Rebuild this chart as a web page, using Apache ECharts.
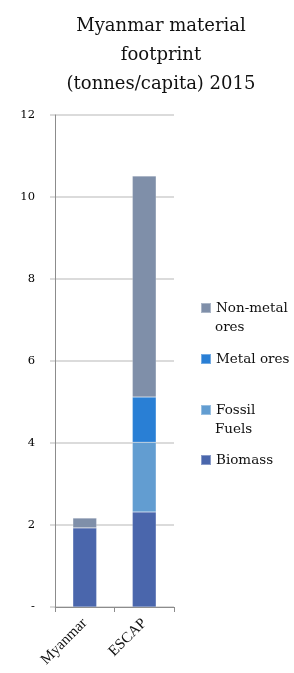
<!DOCTYPE html>
<html>
<head>
<meta charset="utf-8">
<script src="https://cdn.jsdelivr.net/npm/echarts@6/dist/echarts.min.js"></script>
<style>
  html, body { margin: 0; padding: 0; background: #fff; }
  #chart { width: 294px; height: 673px; }
</style>
</head>
<body>
<div id="chart"></div>
<script>
// 数据：从图片读取
const categories = ['Myanmar', 'ESCAP'];
const biomass = [1.93, 2.32];
const fossilFuels = [0, 1.70];
const metalOres = [0, 1.10];
const nonMetalOres = [0.24, 5.39];
const yTicks = [0, 2, 4, 6, 8, 10, 12];

const SERIF = '"DejaVu Serif", "Liberation Serif", serif';
const SERIF2 = '"Liberation Serif", "DejaVu Serif", serif';

const chart = echarts.init(document.getElementById('chart'));

const seriesDefs = [
    { name: 'Biomass', data: biomass, color: '#4a66ac' },
    { name: 'Fossil Fuels', data: fossilFuels, color: '#629dd1' },
    { name: 'Metal ores', data: metalOres, color: '#297fd5' },
    { name: 'Non-metal ores', data: nonMetalOres, color: '#7f8fa9' }
];

// 图例逐项摆放，标记对齐第一行（第二行用 graphic 补上）
const legendRows = {
    'Non-metal ores': { y: 308, first: 'Non-metal', second: 'ores' },
    'Metal ores': { y: 359, first: 'Metal ores', second: null },
    'Fossil Fuels': { y: 410, first: 'Fossil', second: 'Fuels' },
    'Biomass': { y: 460, first: 'Biomass', second: null }
};

const option = {
    animation: false,
    title: {
        text: 'Myanmar material\nfootprint\n(tonnes/capita) 2015',
        left: 156,
        top: 7,
        textAlign: 'center',
        textStyle: {
            fontFamily: SERIF,
            fontSize: 18,
            fontWeight: 'normal',
            color: '#111',
            lineHeight: 29
        }
    },
    legend: seriesDefs.map(s => ({
        data: [s.name],
        left: 200,
        top: legendRows[s.name].y - 10,
        padding: 0,
        orient: 'vertical',
        itemWidth: 10,
        itemHeight: 10,
        icon: 'rect',
        formatter: name => legendRows[name].first,
        textStyle: { fontFamily: SERIF, fontSize: 13.5, color: '#111', lineHeight: 20 },
        selectedMode: false
    })),
    graphic: Object.values(legendRows).filter(r => r.second).map(r => ({
        type: 'text',
        left: 215,
        top: r.y + 12,
        style: { text: r.second, fill: '#111', font: '13.5px ' + SERIF }
    })),
    grid: { left: 55, right: 120, top: 115, bottom: 66, containLabel: false },
    xAxis: {
        type: 'category',
        data: categories,
        axisLine: { lineStyle: { color: '#8c8c8c', width: 1 } },
        axisTick: { show: true, length: 5, lineStyle: { color: '#8c8c8c' } },
        axisLabel: {
            rotate: 45,
            margin: 14,
            fontFamily: SERIF2,
            fontSize: 15,
            color: '#111'
        }
    },
    yAxis: {
        type: 'value',
        min: yTicks[0],
        max: yTicks[yTicks.length - 1],
        interval: 2,
        axisLine: { show: true, lineStyle: { color: '#8c8c8c', width: 1 } },
        axisTick: { show: true, length: 5, lineStyle: { color: '#cfcfcf', width: 1.5 } },
        splitLine: { lineStyle: { color: '#cfcfcf', width: 1.5 } },
        axisLabel: {
            margin: 20,
            fontFamily: SERIF,
            fontSize: 11.5,
            color: '#000',
            formatter: v => (v === 0 ? '-' : String(v))
        }
    },
    series: seriesDefs.map(s => ({
        name: s.name,
        type: 'bar',
        stack: 'total',
        barWidth: '40%',
        data: s.data,
        itemStyle: { color: s.color, borderColor: 'rgba(255,255,255,0.35)', borderWidth: 0.5 }
    }))
};

chart.setOption(option);
</script>
</body>
</html>
